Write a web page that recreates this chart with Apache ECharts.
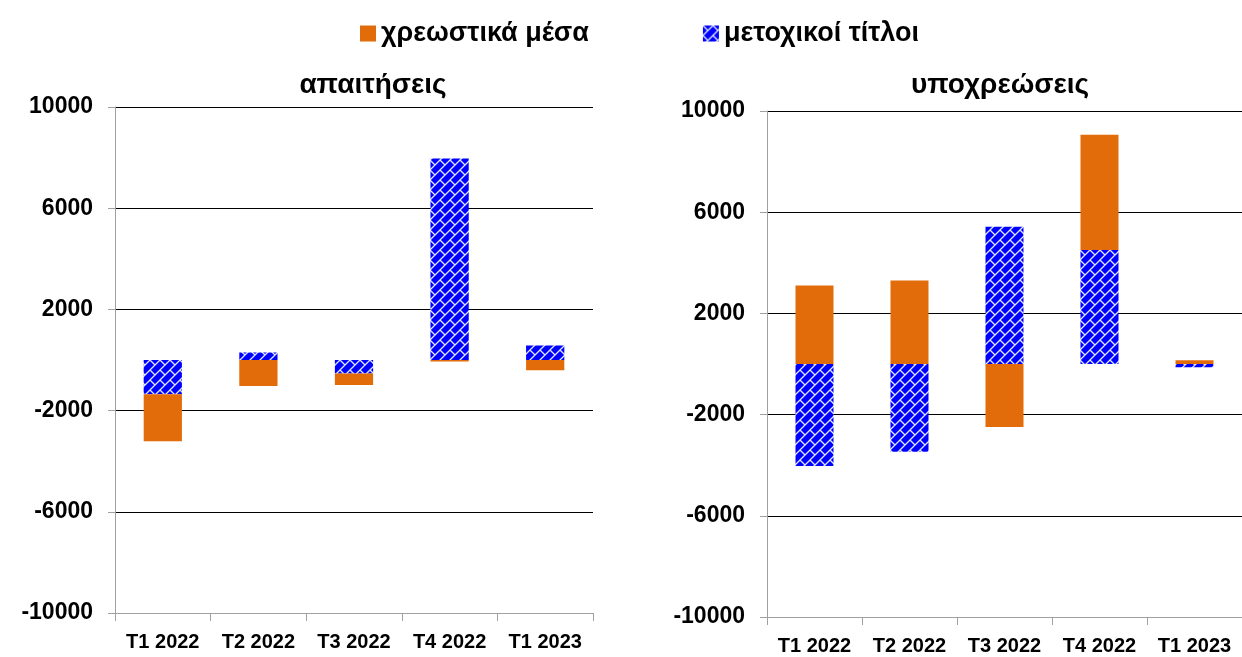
<!DOCTYPE html>
<html>
<head>
<meta charset="utf-8">
<script src="https://cdn.jsdelivr.net/npm/echarts@6/dist/echarts.min.js"></script>
<style>
  html, body { margin: 0; padding: 0; background: #fff; }
  #chart { width: 1242px; height: 657px; }
</style>
</head>
<body>
<div id="chart"></div>
<script>
// quarters
var categories = ['T1 2022', 'T2 2022', 'T3 2022', 'T4 2022', 'T1 2023']
// απαιτήσεις (assets)
var assetsDebt = [-1860, -1030, -460, -60, -410]
var assetsEquity = [-1350, 300, -530, 7960, 570]
// υποχρεώσεις (liabilities)
var liabDebt = [3100, 3300, -2490, 4550, 150]
var liabEquity = [-4030, -3470, 5420, 4510, -130]

var debtName = 'χρεωστικά μέσα'
var equityName = 'μετοχικοί τίτλοι'
var FONT = 'Liberation Sans'

// blue fill with white diagonal bricks
function makeHatch () {
  var c = document.createElement('canvas')
  var s = 10
  c.width = s
  c.height = s
  var ctx = c.getContext('2d')
  ctx.fillStyle = '#0000ff'
  ctx.fillRect(0, 0, s, s)
  ctx.strokeStyle = '#dfe6ff'
  ctx.lineWidth = 1.3
  ctx.beginPath()
  ctx.moveTo(-1, s + 1); ctx.lineTo(s + 1, -1)
  ctx.moveTo(-1, 1); ctx.lineTo(1, -1)
  ctx.moveTo(s - 1, s + 1); ctx.lineTo(s + 1, s - 1)
  ctx.moveTo(0, 0); ctx.lineTo(s / 2, s / 2)
  ctx.stroke()
  return c
}
var hatch = { image: makeHatch(), repeat: 'repeat' }
var orange = '#e36c0a'

function displayAxis (gridIndex) {
  return {
    type: 'value',
    gridIndex: gridIndex,
    min: 0,
    max: 20000,
    interval: 4000,
    axisLine: { show: true, lineStyle: { color: '#a0a0a0', width: 1 } },
    axisTick: { show: true, length: 7, lineStyle: { color: '#a0a0a0' } },
    axisLabel: {
      formatter: function (v) { return String(v - 10000) },
      color: '#000',
      fontFamily: FONT,
      fontWeight: 'bold',
      fontSize: 23,
      margin: 22
    },
    splitLine: { show: true, showMinLine: false, lineStyle: { color: '#000', width: 1 } }
  }
}
function dataAxis (gridIndex) {
  return {
    type: 'value',
    gridIndex: gridIndex,
    min: -10000,
    max: 10000,
    show: false,
    splitLine: { show: false }
  }
}
function catAxis (gridIndex) {
  return {
    type: 'category',
    gridIndex: gridIndex,
    data: categories,
    axisLine: { onZero: false, lineStyle: { color: '#a0a0a0', width: 1 } },
    axisTick: { show: true, length: 8, lineStyle: { color: '#a0a0a0' } },
    axisLabel: {
      interval: 0,
      hideOverlap: false,
      color: '#000',
      fontFamily: FONT,
      fontWeight: 'bold',
      fontSize: 20,
      margin: 19
    }
  }
}
function bar (name, data, x, y, stack, color) {
  return {
    type: 'bar',
    name: name,
    data: data,
    xAxisIndex: x,
    yAxisIndex: y,
    stack: stack,
    barWidth: '40%',
    itemStyle: { color: color },
    emphasis: { disabled: true }
  }
}

var chart = echarts.init(document.getElementById('chart'))
chart.setOption({
  animation: false,
  legend: {
    data: [debtName, equityName],
    icon: 'rect',
    top: 15,
    left: 355,
    itemWidth: 16,
    itemHeight: 16,
    itemGap: 114,
    selectedMode: false,
    textStyle: { color: '#000', fontFamily: FONT, fontWeight: 'bold', fontSize: 27 }
  },
  graphic: [
    {
      type: 'text', x: 373, y: 85,
      style: { text: 'απαιτήσεις', align: 'center', verticalAlign: 'middle', fill: '#000',
        font: 'bold 28px "Liberation Sans"' }
    },
    {
      type: 'text', x: 1000, y: 85,
      style: { text: 'υποχρεώσεις', align: 'center', verticalAlign: 'middle', fill: '#000',
        font: 'bold 28px "Liberation Sans"' }
    }
  ],
  grid: [
    { left: 115, top: 107, width: 478, height: 506 },
    { left: 767, top: 111, width: 486, height: 506 }
  ],
  xAxis: [catAxis(0), catAxis(1)],
  yAxis: [displayAxis(0), dataAxis(0), displayAxis(1), dataAxis(1)],
  series: [
    bar(equityName, assetsEquity, 0, 1, 'a', hatch),
    bar(debtName, assetsDebt, 0, 1, 'a', orange),
    bar(equityName, liabEquity, 1, 3, 'l', hatch),
    bar(debtName, liabDebt, 1, 3, 'l', orange)
  ]
})
</script>
</body>
</html>
